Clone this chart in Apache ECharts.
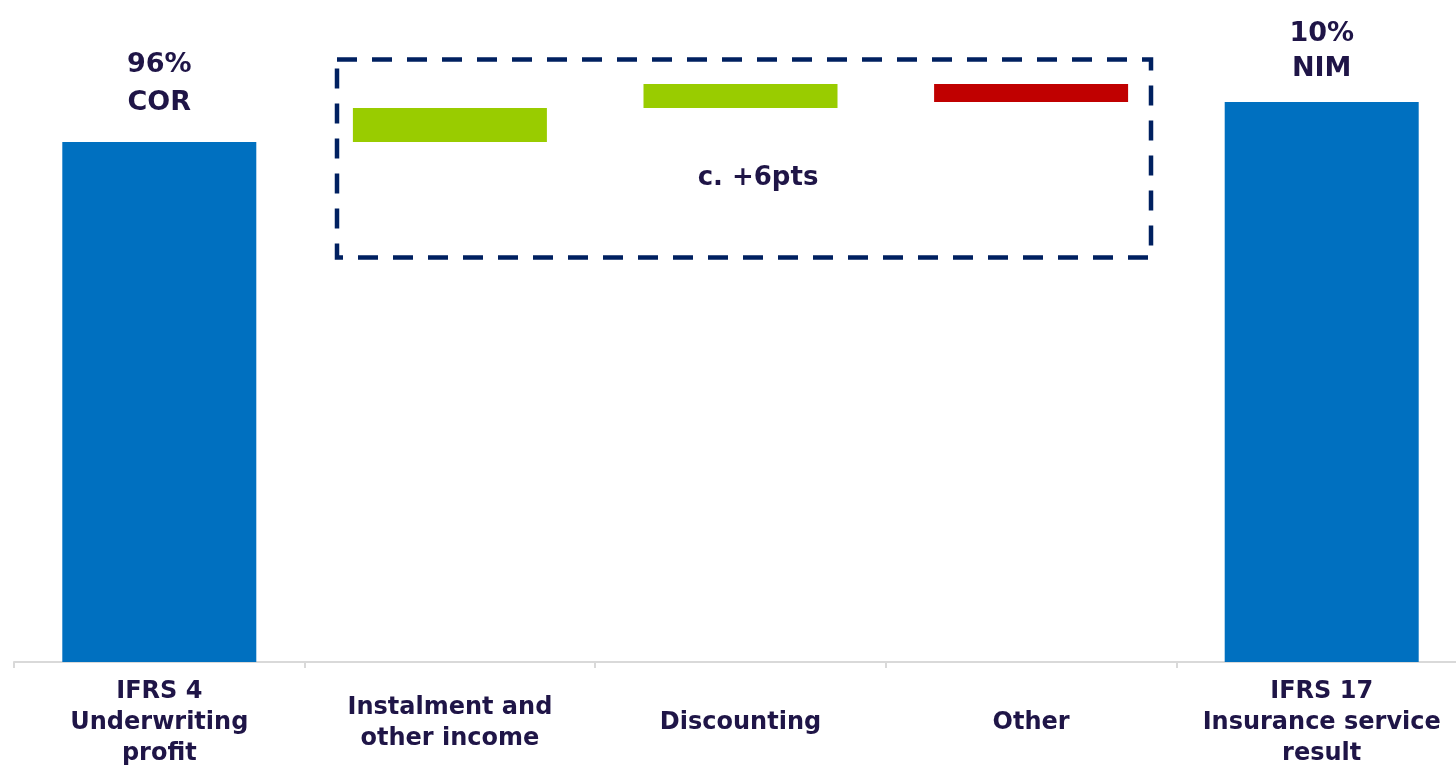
<!DOCTYPE html>
<html>
<head>
<meta charset="utf-8">
<script src="https://cdn.jsdelivr.net/npm/echarts@6/dist/echarts.min.js"></script>
<style>
  html, body { margin: 0; padding: 0; background: #fff; }
  #chart { width: 1456px; height: 766px; }
</style>
</head>
<body>
<div id="chart"></div>
<script>
// categories along the bottom
const categories = [
  'IFRS 4\nUnderwriting\nprofit',
  'Instalment and\nother income',
  'Discounting',
  'Other',
  'IFRS 17\nInsurance service\nresult'
];
// waterfall steps (bar heights, not to scale with the %s)
const startValue = 5.2;
const steps = [0.34, 0.24, -0.18];
const barLabels = ['96%\nCOR', '', '', '', '10%\nNIM'];
const boxText = 'c. +6pts';

const blue = '#0070C0';
const green = '#99CC00';
const red = '#C00000';
const navy = '#1F1547';

// build base (invisible) + visible parts
let base = [0];
let delta = [startValue];
let colors = [blue];
let running = startValue;
for (let i = 0; i < steps.length; i++) {
  const v = steps[i];
  if (v >= 0) {
    base.push(running);
    delta.push(v);
    colors.push(green);
  } else {
    base.push(running + v);
    delta.push(-v);
    colors.push(red);
  }
  running += v;
}
base.push(0);
delta.push(Math.round(running * 100) / 100);
colors.push(blue);

const chart = echarts.init(document.getElementById('chart'));
const font = '"DejaVu Sans", sans-serif';

chart.setOption({
  animation: false,
  textStyle: { fontFamily: font },
  grid: { left: 14, top: 0, width: 1453, height: 662, outerBoundsMode: 'none', containLabel: false },
  xAxis: {
    type: 'category',
    data: categories,
    axisLine: { lineStyle: { color: '#d9d9d9', width: 2 } },
    axisTick: { show: true, length: 6, lineStyle: { color: '#d9d9d9', width: 2 } },
    axisLabel: {
      interval: 0,
      margin: 61,
      verticalAlign: 'middle',
      color: navy,
      fontSize: 24,
      fontWeight: 'bold',
      lineHeight: 31,
      fontFamily: font
    }
  },
  yAxis: { type: 'value', min: 0, max: 6.62, show: false },
  series: [
    {
      type: 'bar',
      stack: 'wf',
      barWidth: 194,
      itemStyle: { color: 'transparent' },
      data: base
    },
    {
      type: 'bar',
      stack: 'wf',
      barWidth: 194,
      data: delta.map(function (v, i) {
        return {
          value: v,
          itemStyle: { color: colors[i] },
          label: {
            show: barLabels[i] !== '',
            position: 'top',
            distance: i === 0 ? 20 : 16,
            formatter: barLabels[i],
            color: navy,
            fontSize: 27,
            fontWeight: 'bold',
            lineHeight: i === 0 ? 38 : 35,
            fontFamily: font
          }
        }
      })
    }
  ],
  graphic: [
    {
      type: 'rect',
      shape: { x: 337, y: 59.5, width: 814, height: 198 },
      style: { fill: 'none', stroke: '#002060', lineWidth: 4.5, lineDash: [20, 15] }
    },
    {
      type: 'text',
      x: 758,
      y: 178,
      style: {
        text: boxText,
        fill: navy,
        font: 'bold 26px ' + font,
        textAlign: 'center',
        textVerticalAlign: 'middle'
      }
    }
  ]
});
</script>
</body>
</html>
